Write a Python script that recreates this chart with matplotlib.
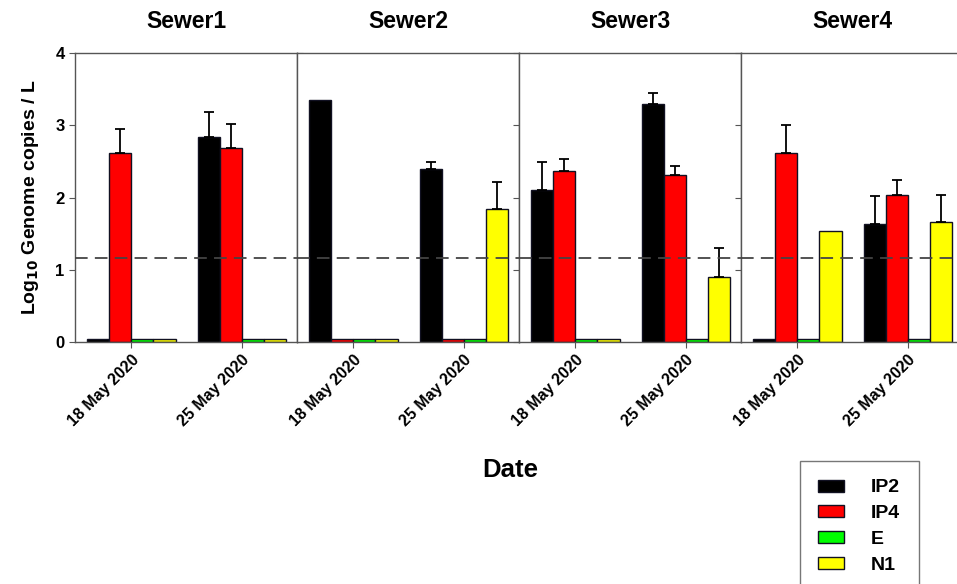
import numpy as np
import matplotlib
matplotlib.use("Agg")
import matplotlib.pyplot as plt
from matplotlib.patches import Patch

plt.rcParams['font.family'] = ['Liberation Sans', 'DejaVu Sans']
plt.rcParams['font.weight'] = 'bold'

# data
sewers = ["Sewer1", "Sewer2", "Sewer3", "Sewer4"]
dates = ["18 May 2020", "25 May 2020"]
targets = ["IP2", "IP4", "E", "N1"]
colors = ["#000000", "#ff0000", "#00ff00", "#ffff00"]

# values[sewer][date] -> [IP2, IP4, E, N1]
values = [
    [[0.04, 2.62, 0.04, 0.04], [2.84, 2.68, 0.04, 0.04]],
    [[3.35, 0.04, 0.04, 0.04], [2.40, 0.04, 0.04, 1.84]],
    [[2.11, 2.36, 0.04, 0.04], [3.29, 2.31, 0.04, 0.90]],
    [[0.04, 2.62, 0.04, 1.54], [1.64, 2.03, 0.04, 1.66]],
]
errors = [
    [[0, 0.33, 0, 0], [0.35, 0.34, 0, 0]],
    [[0, 0, 0, 0], [0.09, 0, 0, 0.38]],
    [[0.38, 0.17, 0, 0], [0.15, 0.12, 0, 0.40]],
    [[0, 0.38, 0, 0], [0.38, 0.21, 0, 0.38]],
]
lod = 1.16

fig = plt.figure(figsize=(9.57, 5.84), dpi=100)
left, right = 75 / 957, 963 / 957
bottom, top = 1 - 342 / 584, 1 - 53 / 584
pw = (right - left) / 4
bw = 0.2
spine_col = "#555555"

for i, name in enumerate(sewers):
    ax = fig.add_axes([left + i * pw, bottom, pw, top - bottom])
    for g in range(len(dates)):
        for k in range(len(targets)):
            x = g + (k - 1.5) * bw
            v = values[i][g][k]
            e = errors[i][g][k]
            ax.bar(x, v, width=bw, color=colors[k], edgecolor="#111122",
                   linewidth=1.0, zorder=2)
            if e > 0:
                ax.errorbar(x, v, yerr=[[0], [e]], fmt="none", ecolor="black",
                            elinewidth=1.3, capsize=3.5, capthick=1.3, zorder=3)
    ax.axhline(lod, color="#444444", linestyle=(0, (7, 4)), linewidth=1.3, zorder=4)
    ax.set_xlim(-0.51, 1.5)
    ax.set_ylim(0, 4)
    ax.set_xticks(range(len(dates)))
    ax.set_xticklabels(dates, rotation=45, ha="right", rotation_mode="anchor",
                       fontsize=11.5, fontweight="bold")
    ax.tick_params(axis="x", direction="out", length=4, color=spine_col, pad=3)
    for s in ax.spines.values():
        s.set_color(spine_col)
        s.set_linewidth(1.0)
    ax.set_yticks([0, 1, 2, 3, 4])
    if i == 0:
        ax.tick_params(axis="y", direction="out", length=4, color=spine_col,
                       labelsize=12, right=True)
        for t in ax.get_yticklabels():
            t.set_fontweight("bold")
        ax.set_ylabel(r"Log$_{\mathbf{10}}$ Genome copies / L", fontsize=14,
                      fontweight="bold", labelpad=10)
    else:
        ax.tick_params(axis="y", direction="in", length=4, color=spine_col,
                       labelleft=False, left=False, right=True)
    ax.set_title(name, fontsize=16.5, fontweight="bold", pad=18)

fig.text(510 / 957, 1 - 470 / 584, "Date", ha="center", va="center",
         fontsize=18.5, fontweight="bold")

handles = [Patch(facecolor=c, edgecolor="#111122", label=t)
           for c, t in zip(colors, targets)]
leg = fig.legend(handles=handles, loc="upper left",
                 bbox_to_anchor=(800 / 957, 1 - 461 / 584),
                 frameon=True, fancybox=False, edgecolor="#555555",
                 prop={"weight": "bold", "size": 14},
                 handlelength=1.3, handleheight=0.57, handletextpad=1.4,
                 labelspacing=0.45, borderpad=0.95, borderaxespad=0)
leg.get_frame().set_linewidth(1.0)

fig.savefig("out.png", dpi=100)
